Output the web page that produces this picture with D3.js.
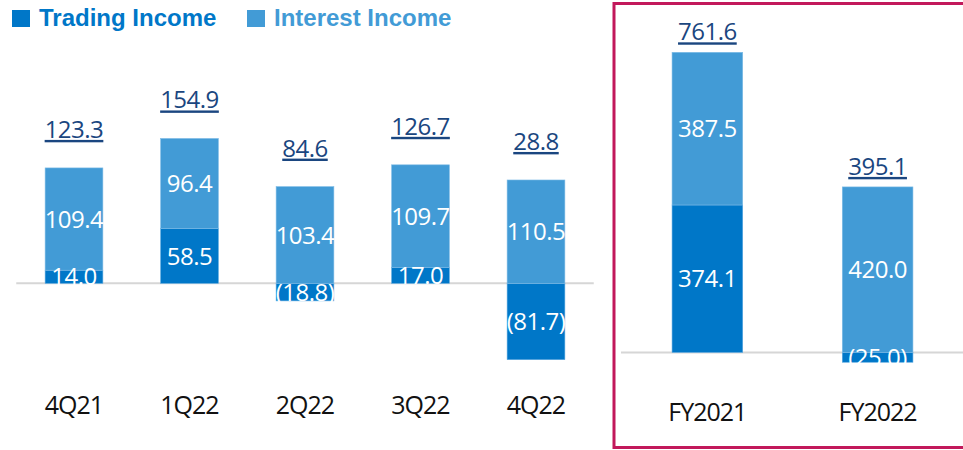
<!DOCTYPE html>
<html>
<head>
<meta charset="utf-8">
<script src="https://cdn.jsdelivr.net/npm/d3@7"></script>
<style>
  body { margin: 0; background: #fff; }
  text { font-family: "Open Sans", "Noto Sans", sans-serif; }
</style>
</head>
<body>
<div id="viz-container"></div>
<script>
// quarterly data
let quarters = ['4Q21', '1Q22', '2Q22', '3Q22', '4Q22'];
let qTrading = [14.0, 58.5, -18.8, 17.0, -81.7];
let qInterest = [109.4, 96.4, 103.4, 109.7, 110.5];
let qTotal = [123.3, 154.9, 84.6, 126.7, 28.8];

// full year data
let years = ['FY2021', 'FY2022'];
let yTrading = [374.1, -25.0];
let yInterest = [387.5, 420.0];
let yTotal = [761.6, 395.1];

//colors
let cTrading = '#0077c8';
let cInterest = '#429bd6';
let cTotal = '#1a4680';

let svg = d3.select('#viz-container')
  .append('svg')
    .attr('width', 963)
    .attr('height', 450);

//legend
let legend = [['Trading Income', cTrading, 12], ['Interest Income', cInterest, 247]];
legend.forEach(function(l){
  svg.append('rect')
    .attr('x', l[2]).attr('y', 10)
    .attr('width', 18).attr('height', 17)
    .attr('fill', l[1]);
  svg.append('text')
    .attr('x', l[2] + 27).attr('y', 26)
    .style('font-family', '"Liberation Sans", Arial, sans-serif')
    .attr('font-weight', 'bold')
    .attr('font-size', 24)
    .attr('fill', l[1])
    .text(l[0]);
});

//frame round the yearly panel
svg.append('rect')
  .attr('x', 614).attr('y', 3.5)
  .attr('width', 400).attr('height', 444)
  .attr('fill', 'none')
  .attr('stroke', '#c2185b')
  .attr('stroke-width', 3);

function stackPanel(cats, trading, interest, total, x, y, gap, labelY){
  let g = svg.append('g');

  // baseline
  g.append('line')
    .attr('x1', x.range()[0]).attr('x2', x.range()[1])
    .attr('y1', y(0)).attr('y2', y(0))
    .attr('stroke', '#d6d6d6')
    .attr('stroke-width', 2);

  let rows = cats.map(function(c, i){
    let t = trading[i], n = interest[i];
    // interest sits on top of positive trading, else starts at 0
    let iBase = t > 0 ? t : 0;
    return {cat: c, t: t, n: n, iBase: iBase, total: total[i]};
  });

  // trading segment
  g.selectAll('.tr').data(rows).enter()
    .append('rect')
      .attr('class', 'tr')
      .attr('x', d => x(d.cat))
      .attr('width', x.bandwidth())
      .attr('y', d => y(Math.max(0, d.t)))
      .attr('height', d => Math.abs(y(d.t) - y(0)))
      .attr('fill', cTrading)
      .attr('stroke', '#5aa8e0').attr('stroke-width', 0.6);

  // interest segment
  g.selectAll('.in').data(rows).enter()
    .append('rect')
      .attr('class', 'in')
      .attr('x', d => x(d.cat))
      .attr('width', x.bandwidth())
      .attr('y', d => y(d.iBase + d.n))
      .attr('height', d => y(d.iBase) - y(d.iBase + d.n))
      .attr('fill', cInterest)
      .attr('stroke', '#7dbbe6').attr('stroke-width', 0.6);

  let cx = d => x(d.cat) + x.bandwidth() / 2;
  let fmt = v => v < 0 ? '(' + d3.format('.1f')(-v) + ')' : d3.format('.1f')(v);

  // values inside bars
  g.selectAll('.tv').data(rows).enter()
    .append('text')
      .attr('x', cx)
      .attr('y', d => (y(d.t) + y(0)) / 2)
      .attr('dy', '0.36em')
      .attr('text-anchor', 'middle')
      .attr('font-size', 24)
      .attr('letter-spacing', -0.5)
      .attr('fill', '#fff')
      .text(d => fmt(d.t));

  g.selectAll('.iv').data(rows).enter()
    .append('text')
      .attr('x', cx)
      .attr('y', d => (y(d.iBase) + y(d.iBase + d.n)) / 2)
      .attr('dy', '0.36em')
      .attr('text-anchor', 'middle')
      .attr('font-size', 24)
      .attr('letter-spacing', -0.5)
      .attr('fill', '#fff')
      .text(d => fmt(d.n));

  // totals, underlined
  g.selectAll('.tot').data(rows).enter()
    .append('text')
      .attr('x', cx)
      .attr('y', d => y(d.iBase + d.n) - gap)
      .attr('text-anchor', 'middle')
      .attr('font-size', 24)
      .attr('letter-spacing', -0.5)
      .attr('fill', cTotal)
      .style('text-decoration', 'underline')
      .text(d => fmt(d.total));

  // category labels
  g.selectAll('.cat').data(rows).enter()
    .append('text')
      .attr('x', cx)
      .attr('y', labelY)
      .attr('text-anchor', 'middle')
      .attr('font-size', 25)
      .attr('letter-spacing', -1)
      .attr('fill', '#111')
      .text(d => d.cat);
}

// quarterly panel
let xQ = d3.scaleBand().domain(quarters).range([16.25, 593.75])
  .paddingInner(0.5).paddingOuter(0.25);
let yQ = d3.scaleLinear().domain([-100, 180]).range([376.8, 115]);
stackPanel(quarters, qTrading, qInterest, qTotal, xQ, yQ, 30, 414);

// yearly panel
let xY = d3.scaleBand().domain(years).range([621, 964])
  .paddingInner(0.585).paddingOuter(0.3);
let yY = d3.scaleLinear().domain([-50, 800]).range([372.1, 37.2]);
stackPanel(years, yTrading, yInterest, yTotal, xY, yY, 12, 421);
</script>
</body>
</html>
